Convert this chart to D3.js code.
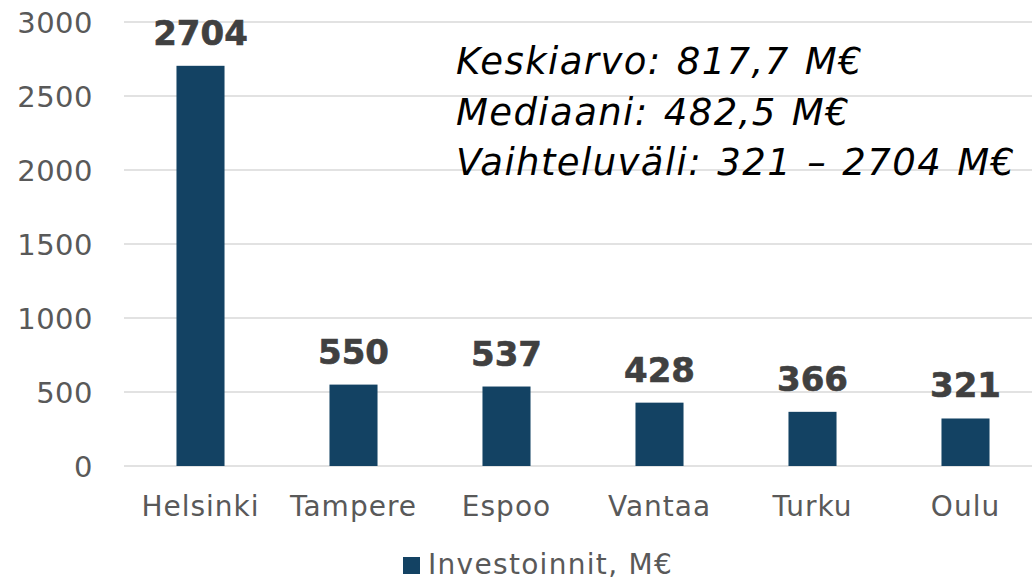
<!DOCTYPE html>
<html>
<head>
<meta charset="utf-8">
<script src="https://cdn.jsdelivr.net/npm/d3@7"></script>
<style>
  body { margin: 0; background: #fff; }
  svg { display: block; font-family: "DejaVu Sans", sans-serif; }
</style>
</head>
<body>
<div class="svgcontainer"></div>
<script>
// data
const cities = ["Helsinki", "Tampere", "Espoo", "Vantaa", "Turku", "Oulu"];
const investments = [2704, 550, 537, 428, 366, 321];
const yTicks = [0, 500, 1000, 1500, 2000, 2500, 3000];
const seriesName = "Investoinnit, M€";
const statLines = ["Keskiarvo: 817,7 M€", "Mediaani: 482,5 M€", "Vaihteluväli: 321 – 2704 M€"];

const W = 1032, H = 581;
const margin = { top: 22, left: 124, bottom: 115 };
const barColor = "#134263";
const font = '"DejaVu Sans", sans-serif';

const svg = d3.select('.svgcontainer')
  .append('svg')
  .attr('width', W)
  .attr('height', H);

const x = d3.scaleBand()
  .domain(cities)
  .range([margin.left, margin.left + 6 * 153])
  .paddingInner(0.686)
  .paddingOuter(0.343);

const y = d3.scaleLinear()
  .domain([0, 3000])
  .range([H - margin.bottom, margin.top]);

// gridlines
svg.append('g')
  .selectAll('line')
  .data(yTicks)
  .enter()
  .append('line')
  .attr('x1', margin.left)
  .attr('x2', W)
  .attr('y1', d => y(d))
  .attr('y2', d => y(d))
  .attr('stroke', '#d9d9d9')
  .attr('stroke-width', 1.5);

// y axis labels
const yAxis = svg.append('g')
  .attr('transform', `translate(${margin.left - 31},0)`)
  .call(d3.axisLeft(y).tickValues(yTicks).tickFormat(d3.format('d')).tickSize(0).tickPadding(0));
yAxis.select('.domain').remove();
yAxis.selectAll('text')
  .attr('font-family', font)
  .attr('font-size', 29)
  .attr('fill', '#595959')
  .attr('letter-spacing', 0.5)
  .attr('dy', '0.36em');

// bars
svg.selectAll('.bar')
  .data(cities)
  .enter()
  .append('rect')
  .attr('class', 'bar')
  .attr('x', d => x(d))
  .attr('width', x.bandwidth())
  .attr('y', (d, i) => y(investments[i]))
  .attr('height', (d, i) => y(0) - y(investments[i]))
  .attr('fill', barColor);

// value labels
svg.selectAll('.val')
  .data(cities)
  .enter()
  .append('text')
  .attr('class', 'val')
  .attr('x', d => x(d) + x.bandwidth() / 2)
  .attr('y', (d, i) => y(investments[i]) - 21)
  .attr('text-anchor', 'middle')
  .attr('font-size', 34)
  .attr('font-weight', 'bold')
  .attr('fill', '#404040')
  .attr('stroke', '#404040')
  .attr('stroke-width', 0.6)
  .text((d, i) => investments[i]);

// x axis labels
const xAxis = svg.append('g')
  .attr('transform', `translate(0,${y(0)})`)
  .call(d3.axisBottom(x).tickSize(0).tickPadding(0));
xAxis.select('.domain').remove();
xAxis.selectAll('text')
  .attr('font-family', font)
  .attr('font-size', 28)
  .attr('fill', '#595959')
  .attr('letter-spacing', 1)
  .attr('dy', 0)
  .attr('y', 50);

// legend
const legend = svg.append('g').attr('transform', 'translate(403,557)');
legend.append('rect')
  .attr('width', 17)
  .attr('height', 17)
  .attr('fill', barColor);
legend.append('text')
  .attr('x', 25)
  .attr('y', 17)
  .attr('font-size', 28)
  .attr('fill', '#595959')
  .attr('letter-spacing', 1.3)
  .text(seriesName);

// stats text
svg.append('g')
  .selectAll('text')
  .data(statLines)
  .enter()
  .append('text')
  .attr('x', 456)
  .attr('y', (d, i) => 74 + i * 50.5)
  .attr('font-size', 37)
  .attr('font-style', 'italic')
  .attr('fill', '#000')
  .attr('letter-spacing', 1.4)
  .attr('word-spacing', 2)
  .text(d => d);
</script>
</body>
</html>
